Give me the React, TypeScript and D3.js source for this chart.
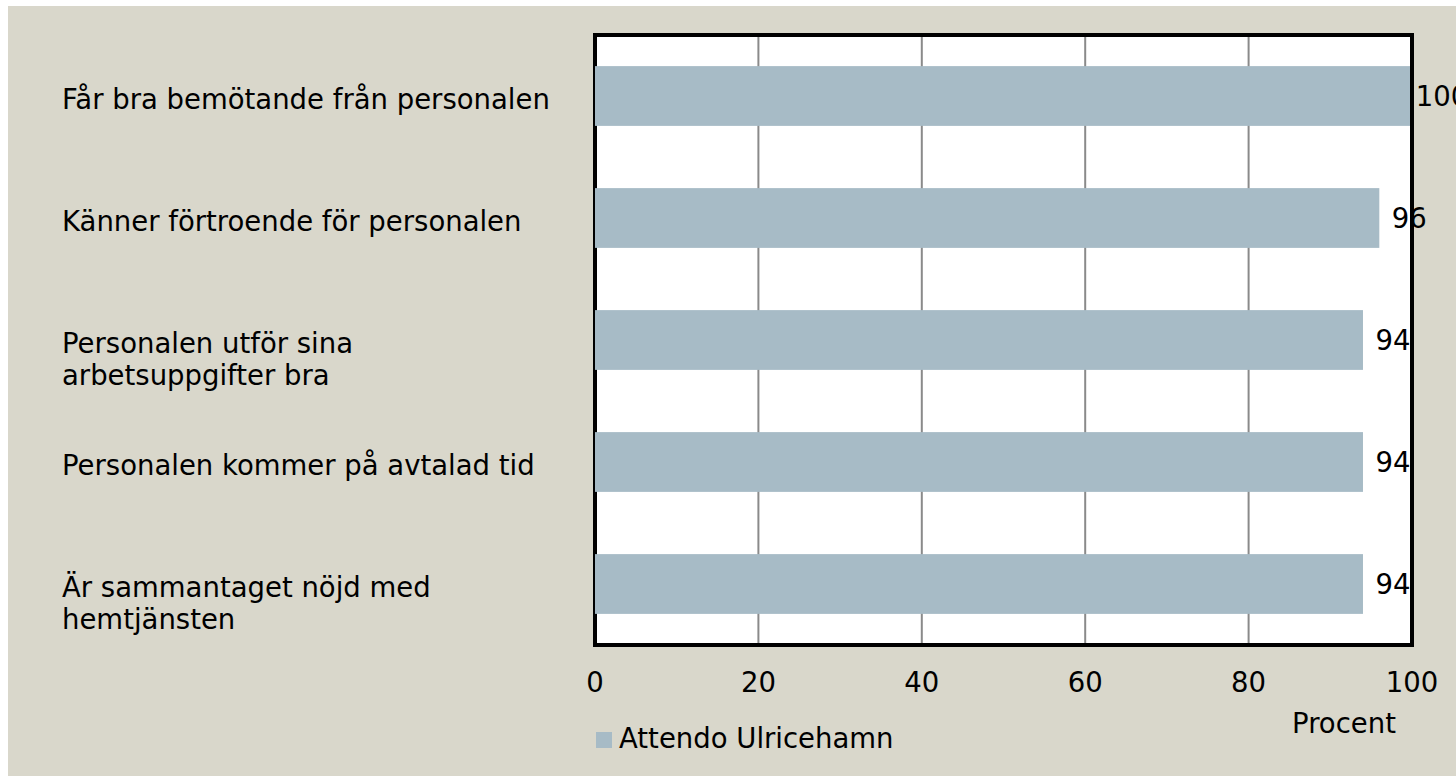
import React from "react";
import * as d3 from "d3";

const categories: string[][] = [
  ["Får bra bemötande från personalen"],
  ["Känner förtroende för personalen"],
  ["Personalen utför sina", "arbetsuppgifter bra"],
  ["Personalen kommer på avtalad tid"],
  ["Är sammantaget nöjd med", "hemtjänsten"],
];
const values: number[] = [100, 96, 94, 94, 94];
const ticks: number[] = [0, 20, 40, 60, 80, 100];
const seriesName = "Attendo Ulricehamn";
const axisTitle = "Procent";

const W = 1456;
const H = 776;
const FONT = "'DejaVu Sans', sans-serif";
const FS = 27.5;

export default function App() {
  const x = d3.scaleLinear().domain([0, 100]).range([595, 1412]);
  const keys = categories.map((_, i) => String(i));
  const y = d3.scaleBand().domain(keys).range([35, 645]).padding(0);
  const barH = y.bandwidth() * 0.49;
  const grid = ticks.filter((t) => t > 0 && t < 100);
  const cy = (i: number) => (y(String(i)) as number) + y.bandwidth() / 2;

  return (
    <svg
      width={W}
      height={H}
      style={{ position: "absolute", left: 0, top: 0 }}
      fontFamily={FONT}
    >
      <rect x={0} y={0} width={W} height={H} fill="#ffffff" />
      <rect x={8} y={6} width={W - 8} height={H - 6} fill="#d9d7cb" />
      <rect x={x(0)} y={35} width={x(100) - x(0)} height={610} fill="#ffffff" />
      {grid.map((t) => (
        <line key={t} x1={x(t)} x2={x(t)} y1={35} y2={645} stroke="#8a8a8a" strokeWidth={2} />
      ))}
      <rect
        x={x(0)}
        y={35}
        width={x(100) - x(0)}
        height={610}
        fill="none"
        stroke="#000"
        strokeWidth={4}
      />
      {values.map((v, i) => (
        <rect key={i} x={x(0)} y={cy(i) - barH / 2} width={x(v) - x(0)} height={barH} fill="#a7bbc6" />
      ))}
      {values.map((v, i) => (
        <text key={i} x={x(v) + 30} y={cy(i) + 10} fontSize={FS} textAnchor="middle" fill="#000">
          {v}
        </text>
      ))}
      <line x1={x(100)} x2={x(100)} y1={33} y2={647} stroke="#000" strokeWidth={4} />
      {categories.map((lines, i) =>
        lines.map((l, j) => (
          <text key={i + "-" + j} x={62} y={cy(i) + 13 + j * 32} fontSize={FS} fill="#000">
            {l}
          </text>
        ))
      )}
      {ticks.map((t) => (
        <text key={t} x={x(t)} y={692} fontSize={FS} textAnchor="middle" fill="#000">
          {t}
        </text>
      ))}
      <text x={1344} y={733} fontSize={FS} textAnchor="middle" fill="#000">
        {axisTitle}
      </text>
      <rect x={596} y={732} width={16} height={16} fill="#a7bbc6" />
      <text x={619} y={748} fontSize={FS} fill="#000">
        {seriesName}
      </text>
    </svg>
  );
}
